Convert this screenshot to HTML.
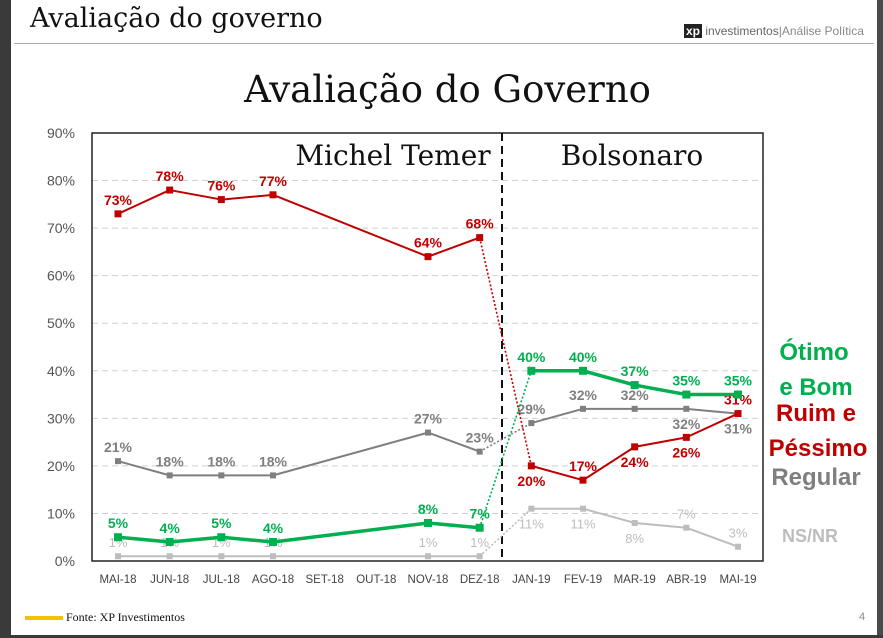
<!DOCTYPE html>
<html><head><meta charset="utf-8">
<style>
body{margin:0;width:883px;height:638px;overflow:hidden;background:#fff;font-family:"Liberation Sans",sans-serif;position:relative}
.t{position:absolute;white-space:nowrap}
</style></head><body>
<div style="position:absolute;left:0;top:0;width:11px;height:638px;background:#3a3a3a"></div>
<div style="position:absolute;right:0;top:0;width:6px;height:638px;background:#4a4a4a"></div>
<div style="position:absolute;left:0;top:635px;width:883px;height:3px;background:#3a3a3a"></div>
<div class="t" style="left:30px;top:3px;font-family:'DejaVu Serif','Liberation Serif',serif;font-size:27px;color:#111">Avaliação do governo</div>
<div style="position:absolute;left:14px;top:43px;width:860px;height:1px;background:#aaa"></div>
<div class="t" style="left:684px;top:24px;font-size:12px;color:#666"><span style="background:#222;color:#fff;font-weight:bold;padding:0 2px">xp</span> investimentos<span style="color:#888">|Análise Política</span></div>
<div class="t" style="left:0;width:895px;text-align:center;top:68px;font-family:'DejaVu Serif','Liberation Serif',serif;font-size:37px;color:#111">Avaliação do Governo</div>
<svg id="c" width="883" height="638" style="position:absolute;left:0;top:0"></svg>
<div style="position:absolute;left:25px;top:616px;width:38px;height:4px;background:#f5c000"></div>
<div class="t" style="left:66px;top:610px;font-family:'Liberation Serif',serif;font-size:12px;color:#111">Fonte: XP Investimentos</div>
<div class="t" style="left:859px;top:611px;font-size:11px;color:#888">4</div>
<script>
const categories=["MAI-18","JUN-18","JUL-18","AGO-18","SET-18","OUT-18","NOV-18","DEZ-18","JAN-19","FEV-19","MAR-19","ABR-19","MAI-19"];
const ruim=[73,78,76,77,null,null,64,68,20,17,24,26,31];
const otimo=[5,4,5,4,null,null,8,7,40,40,37,35,35];
const regular=[21,18,18,18,null,null,27,23,29,32,32,32,31];
const nsnr=[1,1,1,1,null,null,1,1,11,11,8,7,3];
const yTicks=[0,10,20,30,40,50,60,70,80,90];
const ruimPos=["a","a","a","a","","","a","a","b","a","b","b","a"];
const otimoPos=["a","a","a","a","","","a","a","a","a","a","a","a"];
const regularPos=["a","a","a","a","","","a","a","a","a","a","b","b"];
const nsPos=["a","a","a","a","","","a","a","b","b","b","a","a"];
const svg=document.getElementById('c');const NS='http://www.w3.org/2000/svg';
const L=92,R=763,T=133,B=561,X0=118,X1=738,BREAK=7;
const x=i=>X0+i*(X1-X0)/(categories.length-1);
const y=v=>B-(v/90)*(B-T);
function el(t,a,p){const e=document.createElementNS(NS,t);for(const k in a)e.setAttribute(k,a[k]);(p||svg).appendChild(e);return e;}
yTicks.forEach(v=>{
 if(v>0&&v<90){const g=el('line',{x1:L,x2:R,y1:y(v),y2:y(v),stroke:'#d0d0d0','stroke-dasharray':'6,4'});
 
 }
 const t=el('text',{x:75,y:y(v)+5,'text-anchor':'end','font-size':14,fill:'#555','font-family':'Liberation Sans'});t.textContent=v+'%';
 
 
});
const box=el('rect',{x:L,y:T,width:R-L,height:B-T,fill:'none',stroke:'#222','stroke-width':1.5});


categories.forEach((c,i)=>{const t=el('text',{x:x(i),y:583,'text-anchor':'middle','font-size':11.5,fill:'#444','font-family':'Liberation Sans'});t.textContent=c;
 
 });
const dv=el('line',{x1:502,x2:502,y1:T,y2:B,stroke:'#111','stroke-width':2,'stroke-dasharray':'8,5'});


[["Michel Temer",393,"temer-label"],["Bolsonaro",632,"bolsonaro-label"]].forEach(a=>{const t=el('text',{x:a[1],y:165,'text-anchor':'middle','font-size':28,fill:'#111','font-family':'DejaVu Serif,Liberation Serif,serif'});t.textContent=a[0];
 
 });
function series(d,pos,col,w,ms,name,fs){
 const g=el('g',{});
 
 
 let pts=[];d.forEach((v,i)=>{if(v!==null)pts.push([i,v]);});
 for(let k=0;k<pts.length-1;k++){const [i1,v1]=pts[k],[i2,v2]=pts[k+1];
  const dotted=(i1===BREAK);
  el('line',{x1:x(i1),y1:y(v1),x2:x(i2),y2:y(v2),stroke:col,'stroke-width':dotted?1.6:w,'stroke-dasharray':dotted?'2,2':'none'},g);}
 pts.forEach(([i,v])=>{const m=el('rect',{x:x(i)-ms/2,y:y(v)-ms/2,width:ms,height:ms,fill:col},g);
  
  
  const t=el('text',{x:x(i),y:pos[i]==='a'?y(v)-9:y(v)+20,'text-anchor':'middle','font-size':fs,'font-weight':name==='nsnr'?'normal':'bold',fill:col,'font-family':'Liberation Sans'},g);t.textContent=v+'%';
  
  });
}
series(nsnr,nsPos,'#bdbdbd',2,6,'nsnr',13);
series(regular,regularPos,'#7f7f7f',2,6,'regular',14);
series(ruim,ruimPos,'#c00000',2,7,'ruim',14);
series(otimo,otimoPos,'#00b050',3.5,8,'otimo',14);
[["Ótimo",814,360,'#00b050',24,'legend-otimo'],["e Bom",816,395,'#00b050',24,'legend-otimo-2'],["Ruim e",816,421,'#c00000',24,'legend-ruim'],["Péssimo",818,456,'#c00000',24,'legend-ruim-2'],["Regular",816,485,'#7f7f7f',24,'legend-regular'],["NS/NR",810,542,'#bdbdbd',18,'legend-nsnr']].forEach(a=>{
 const t=el('text',{x:a[1],y:a[2],'text-anchor':'middle','font-size':a[4],'font-weight':'bold',fill:a[3],'font-family':'Liberation Sans'});t.textContent=a[0];
 
 });
</script>
</body></html>
